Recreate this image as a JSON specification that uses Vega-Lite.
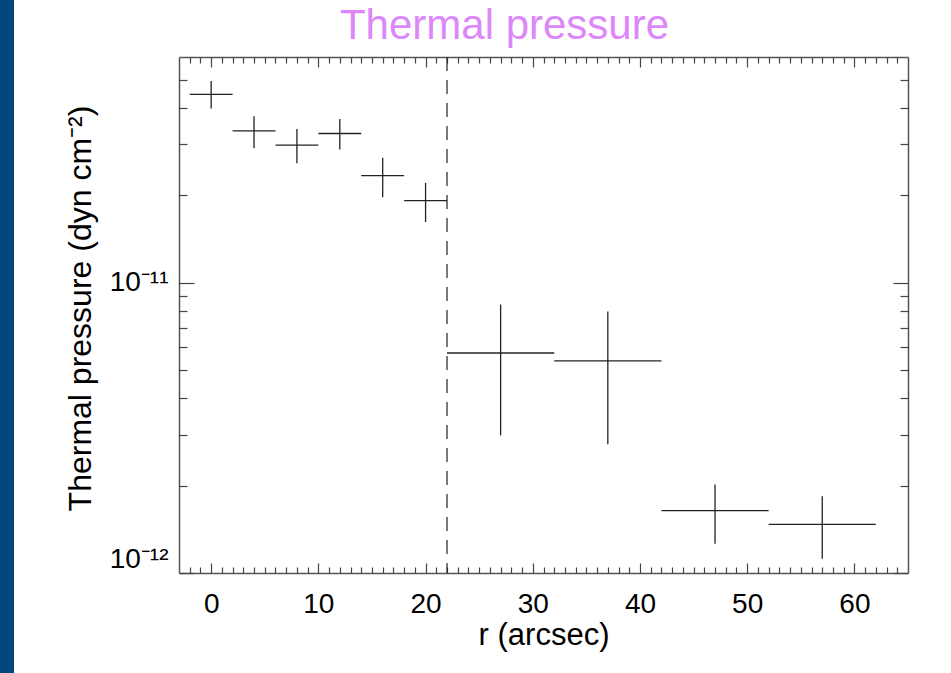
{
  "$schema": "https://vega.github.io/schema/vega-lite/v6.json",
  "width": 729,
  "height": 516,
  "autosize": {"type": "none"},
  "padding": {"left": 179, "top": 57, "right": 43, "bottom": 100},
  "background": "#02467d",
  "title": {
    "text": "Thermal pressure",
    "font": "Liberation Sans",
    "fontSize": 42,
    "fontWeight": "normal",
    "color": "#dd88f8",
    "anchor": "middle",
    "baseline": "alphabetic",
    "offset": 19,
    "dx": -39,
    "dy": 44
  },
  "config": {
    "view": {"stroke": "white", "strokeWidth": 330, "fill": "white"},
    "axis": {
      "labelFont": "Liberation Sans",
      "titleFont": "Liberation Sans",
      "labelFontSize": 28,
      "titleFontSize": 32,
      "labelColor": "black",
      "titleColor": "black",
      "titleFontWeight": "normal",
      "domainColor": "#555555",
      "domainWidth": 1.5,
      "tickColor": "#444444",
      "tickWidth": 1.2,
      "grid": false
    }
  },
  "datasets": {
    "pts": [
      {"r": 0, "rlo": -2, "rhi": 2, "p": 4.46e-11, "plo": 3.99e-11, "phi": 4.96e-11},
      {"r": 4, "rlo": 2, "rhi": 6, "p": 3.34e-11, "plo": 2.91e-11, "phi": 3.75e-11},
      {"r": 8, "rlo": 6, "rhi": 10, "p": 2.98e-11, "plo": 2.58e-11, "phi": 3.39e-11},
      {"r": 12, "rlo": 10, "rhi": 14, "p": 3.27e-11, "plo": 2.88e-11, "phi": 3.67e-11},
      {"r": 16, "rlo": 14, "rhi": 18, "p": 2.34e-11, "plo": 1.97e-11, "phi": 2.70e-11},
      {"r": 20, "rlo": 18, "rhi": 22, "p": 1.92e-11, "plo": 1.62e-11, "phi": 2.21e-11},
      {"r": 27, "rlo": 22, "rhi": 32, "p": 5.73e-12, "plo": 2.98e-12, "phi": 8.42e-12},
      {"r": 37, "rlo": 32, "rhi": 42, "p": 5.38e-12, "plo": 2.78e-12, "phi": 7.97e-12},
      {"r": 47, "rlo": 42, "rhi": 52, "p": 1.64e-12, "plo": 1.26e-12, "phi": 2.02e-12},
      {"r": 57, "rlo": 52, "rhi": 62, "p": 1.47e-12, "plo": 1.12e-12, "phi": 1.84e-12}
    ],
    "marker": [{"r": 22}]
  },
  "resolve": {"axis": {"x": "independent", "y": "independent"}},
  "layer": [
    {
      "data": {"name": "pts"},
      "mark": {"type": "rule", "color": "#222222", "strokeWidth": 1.3},
      "encoding": {
        "x": {
          "field": "rlo", "type": "quantitative",
          "scale": {"domain": [-3, 65], "nice": false, "zero": false},
          "axis": {
            "orient": "bottom", "values": [0, 10, 20, 30, 40, 50, 60],
            "ticks": false, "labelPadding": 17, "title": "r (arcsec)", "titlePadding": 2,
            "titleFontSize": 31, "labelFlush": false
          }
        },
        "x2": {"field": "rhi"},
        "y": {
          "field": "p", "type": "quantitative",
          "scale": {"type": "log", "domain": [1e-12, 6e-11], "nice": false},
          "axis": {
            "orient": "left", "values": [1e-12, 1e-11],
            "labelExpr": "datum.value < 5e-12 ? '10⁻¹²' : '10⁻¹¹'",
            "ticks": false, "labelPadding": 11, "labelFlush": true,
            "title": "Thermal pressure (dyn cm⁻²)", "titlePadding": 12, "titleY": 251
          }
        }
      }
    },
    {
      "data": {"name": "pts"},
      "mark": {"type": "rule", "color": "#222222", "strokeWidth": 1.3},
      "encoding": {
        "x": {
          "field": "r", "type": "quantitative",
          "axis": {
            "orient": "bottom", "values": [0, 10, 20, 30, 40, 50, 60],
            "labels": false, "domain": false, "tickSize": -10, "title": null
          }
        },
        "y": {
          "field": "plo", "type": "quantitative",
          "axis": {
            "orient": "left", "values": [1e-12, 1e-11],
            "labels": false, "domain": false, "tickSize": -15, "title": null
          }
        },
        "y2": {"field": "phi"}
      }
    },
    {
      "data": {"name": "marker"},
      "mark": {"type": "rule", "color": "#222222", "strokeWidth": 1.2, "strokeDash": [14, 9]},
      "encoding": {
        "x": {
          "field": "r", "type": "quantitative",
          "axis": {
            "orient": "bottom",
            "values": [-2, -1, 1, 2, 3, 4, 5, 6, 7, 8, 9, 11, 12, 13, 14, 15, 16, 17, 18, 19, 21, 22, 23, 24, 25, 26, 27, 28, 29, 31, 32, 33, 34, 35, 36, 37, 38, 39, 41, 42, 43, 44, 45, 46, 47, 48, 49, 51, 52, 53, 54, 55, 56, 57, 58, 59, 61, 62, 63, 64],
            "labels": false, "domain": false, "tickSize": -6, "title": null
          }
        }
      }
    },
    {
      "data": {"name": "pts"},
      "mark": {"type": "point", "opacity": 0},
      "encoding": {
        "x": {
          "field": "r", "type": "quantitative",
          "axis": {
            "orient": "top", "values": [0, 10, 20, 30, 40, 50, 60],
            "labels": false, "tickSize": -10, "title": null
          }
        },
        "y": {
          "field": "p", "type": "quantitative",
          "axis": {
            "orient": "right", "values": [1e-12, 1e-11],
            "labels": false, "tickSize": -15, "title": null
          }
        }
      }
    },
    {
      "data": {"name": "pts"},
      "mark": {"type": "point", "opacity": 0},
      "encoding": {
        "x": {
          "field": "r", "type": "quantitative",
          "axis": {
            "orient": "top",
            "values": [-2, -1, 1, 2, 3, 4, 5, 6, 7, 8, 9, 11, 12, 13, 14, 15, 16, 17, 18, 19, 21, 22, 23, 24, 25, 26, 27, 28, 29, 31, 32, 33, 34, 35, 36, 37, 38, 39, 41, 42, 43, 44, 45, 46, 47, 48, 49, 51, 52, 53, 54, 55, 56, 57, 58, 59, 61, 62, 63, 64],
            "labels": false, "domain": false, "tickSize": -6, "title": null
          }
        },
        "y": {
          "field": "p", "type": "quantitative",
          "axis": {
            "orient": "right",
            "values": [2e-12, 3e-12, 4e-12, 5e-12, 6e-12, 7e-12, 8e-12, 9e-12, 2e-11, 3e-11, 4e-11, 5e-11],
            "labels": false, "domain": false, "tickSize": -8, "title": null
          }
        }
      }
    },
    {
      "data": {"name": "pts"},
      "mark": {"type": "point", "opacity": 0},
      "encoding": {
        "x": {"field": "r", "type": "quantitative", "axis": null},
        "y": {
          "field": "p", "type": "quantitative",
          "axis": {
            "orient": "left",
            "values": [2e-12, 3e-12, 4e-12, 5e-12, 6e-12, 7e-12, 8e-12, 9e-12, 2e-11, 3e-11, 4e-11, 5e-11],
            "labels": false, "domain": false, "tickSize": -8, "title": null
          }
        }
      }
    }
  ]
}
